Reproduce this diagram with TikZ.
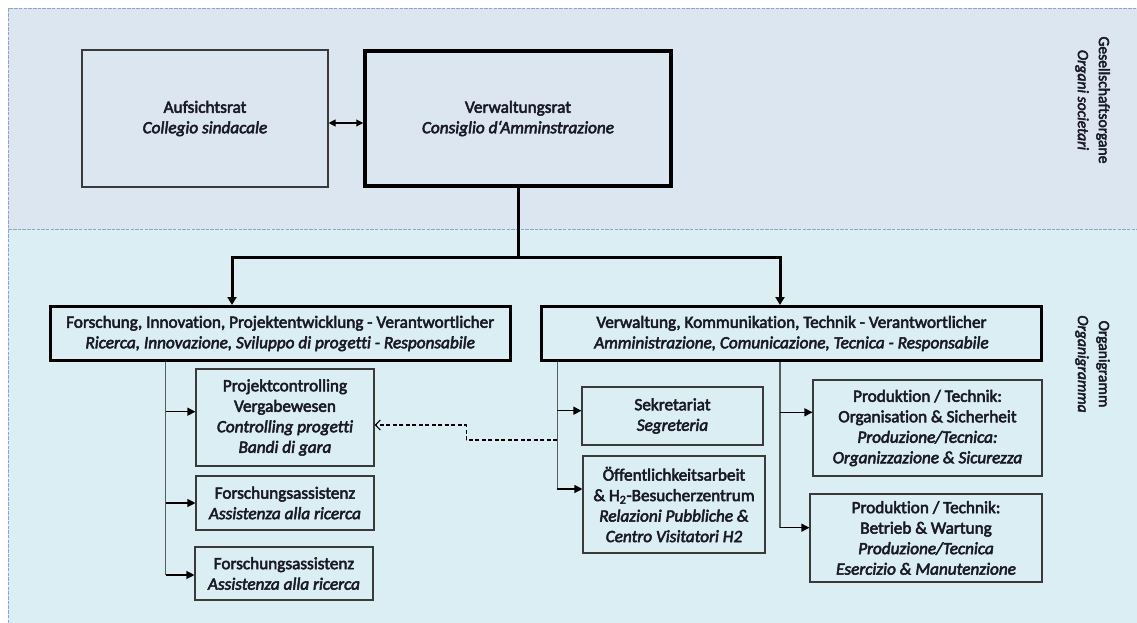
\documentclass[tikz,border=0pt]{standalone}
\usepackage{fontspec}
\setmainfont{Carlito}[FakeBold=3, Ligatures=NoCommon]
\usetikzlibrary{arrows.meta}
\definecolor{topbg}{HTML}{DCE6F1}
\definecolor{lowbg}{HTML}{DAEEF3}
\definecolor{dashc}{HTML}{8EA6C6}
\definecolor{boxc}{HTML}{3A3A3A}
\definecolor{busc}{HTML}{5A5A5A}
\definecolor{txtc}{HTML}{1A1A26}
\begin{document}
\begin{tikzpicture}[x=1pt,y=-1pt,
  box/.style={draw=boxc, line width=1.1pt, align=center, inner sep=0pt,
    font=\fontsize{17.2}{20.5}\selectfont, text=txtc},
  bigbox/.style={box, draw=black, line width=3.5pt},
  midbox/.style={box, draw=black, line width=3pt},
  sidelabel/.style={align=center, rotate=-90, inner sep=0pt,
    font=\fontsize{15.6}{21}\selectfont, text=txtc},
  bus/.style={draw=busc, line width=1.1pt},
  arr/.style={draw=black, line width=1.1pt, -{Triangle[length=8pt,width=8pt]}},
  thk/.style={draw=black, line width=3pt},
  thkarr/.style={thk, -{Triangle[length=8pt,width=9pt]}},
  dasharr/.style={draw=black, line width=1.1pt, dash pattern=on 4pt off 2.5pt,
    -{Straight Barb[length=5pt,width=10pt]}},
  regionline/.style={draw=dashc, line width=1pt, dash pattern=on 3.5pt off 1.2pt}
]
\useasboundingbox (0,0) rectangle (1137,623);
% regions
\fill[topbg] (8.3,8.5) rectangle (1137,229);
\fill[lowbg] (8.3,229) rectangle (1137,623);
\draw[regionline] (8.3,623) -- (8.3,8.5) -- (1137,8.5);
\draw[regionline] (8.3,229) -- (1137,229);

% side labels
\node[sidelabel] (lg) at (1092.5,100) {Gesellschaftsorgane\\\textit{Organi societari}};
\node[sidelabel] (lo) at (1092.5,364) {Organigramm\\\textit{Organigramma}};

% top boxes
\node[box, minimum width=246pt, minimum height=137pt] (auf) at (205,118.5)
  {Aufsichtsrat\\\textit{Collegio sindacale}};
\node[bigbox, minimum width=306pt, minimum height=135pt] (vwr) at (518,118.5)
  {Verwaltungsrat\\\textit{Consiglio d‘Amminstrazione}};

% main boxes
\node[midbox, minimum width=460pt, minimum height=54pt] (fip) at (280.2,333.5)
  {Forschung, Innovation, Projektentwicklung - Verantwortlicher\\\textit{Ricerca, Innovazione, Sviluppo di progetti - Responsabile}};
\node[midbox, minimum width=500pt, minimum height=54pt] (vkt) at (791.5,333.5)
  {Verwaltung, Kommunikation, Technik - Verantwortlicher\\\textit{Amministrazione, Comunicazione, Tecnica - Responsabile}};

% sub boxes left
\node[box, minimum width=178pt, minimum height=97pt] (pc) at (285,417.5)
  {Projektcontrolling\\Vergabewesen\\\textit{Controlling progetti}\\\textit{Bandi di gara}};
\node[box, minimum width=178pt, minimum height=54pt] (fa1) at (285,503)
  {Forschungsassistenz\\\textit{Assistenza alla ricerca}};
\node[box, minimum width=178pt, minimum height=53pt] (fa2) at (284,573.5)
  {Forschungsassistenz\\\textit{Assistenza alla ricerca}};

% sub boxes right
\node[box, minimum width=181pt, minimum height=58pt] (sek) at (672.5,416)
  {Sekretariat\\\textit{Segreteria}};
\node[box, minimum width=182pt, minimum height=97pt] (oef) at (674,504.5)
  {Öffentlichkeitsarbeit\\\& H\textsubscript{2}-Besucherzentrum\\\textit{Relazioni Pubbliche \&}\\\textit{Centro Visitatori H2}};
\node[box, minimum width=229pt, minimum height=96pt] (p1) at (927.5,428)
  {Produktion / Technik:\\Organisation \& Sicherheit\\\textit{Produzione/Tecnica:}\\\textit{Organizzazione \& Sicurezza}};
\node[box, minimum width=232pt, minimum height=88pt] (p2) at (926,538)
  {Produktion / Technik:\\Betrieb \& Wartung\\\textit{Produzione/Tecnica}\\\textit{Esercizio \& Manutenzione}};

% top connectors
\draw[line width=1.1pt, {Triangle[length=7pt,width=7pt]}-{Triangle[length=7pt,width=7pt]}]
  ([yshift=-4.5pt]auf.east) -- ([yshift=-4.5pt]vwr.west);
\coordinate (j) at ([yshift=-70pt]vwr.south);
\coordinate (fa) at ([xshift=-48.2pt]fip.north);
\coordinate (va) at ([xshift=-11.5pt]vkt.north);
\draw[thk] (vwr.south) -- (j);
\draw[thkarr] (j) -| (fa);
\draw[thkarr] (j) -| (va);

% buses
\coordinate (lb) at ([xshift=-114.5pt]fip.south);
\coordinate (rb1) at ([xshift=-234.2pt]vkt.south);
\coordinate (rb2) at ([xshift=-11.5pt]vkt.south);

\draw[bus] (lb) -- ([yshift=-1.5pt]fa2.west -| lb);
\draw[arr] ([yshift=5.8pt]pc.west -| lb) -- ([yshift=5.8pt]pc.west);
\draw[arr] (fa1.west -| lb) -- (fa1.west);
\draw[arr] ([yshift=-1.5pt]fa2.west -| lb) -- ([yshift=-1.5pt]fa2.west);

\draw[bus] (rb1) -- ([yshift=15.5pt]oef.west -| rb1);
\draw[arr] ([yshift=5.3pt]sek.west -| rb1) -- ([yshift=5.3pt]sek.west);
\draw[arr] ([yshift=15.5pt]oef.west -| rb1) -- ([yshift=15.5pt]oef.west);

\draw[bus] (rb2) -- ([yshift=10.3pt]p2.west -| rb2);
\draw[arr] ([yshift=15.7pt]p1.west -| rb2) -- ([yshift=15.7pt]p1.west);
\draw[arr] ([yshift=10.3pt]p2.west -| rb2) -- ([yshift=10.3pt]p2.west);

% dashed link
\draw[dasharr] ([yshift=-24pt]sek.west -| rb1) -- ++(-91,0) |- ([yshift=-7.5pt]pc.east);
\end{tikzpicture}
\end{document}
